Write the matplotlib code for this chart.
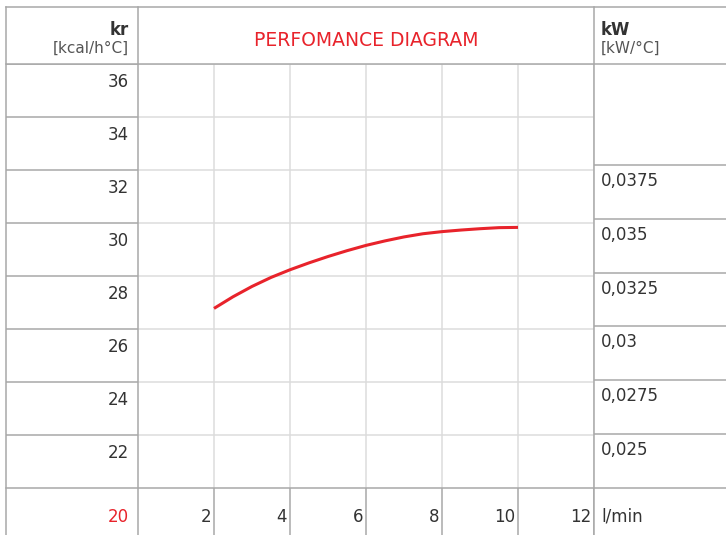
import matplotlib
matplotlib.use("Agg")
import matplotlib.pyplot as plt
from matplotlib.transforms import offset_copy

# data
flow = [2, 2.5, 3, 3.5, 4, 4.5, 5, 5.5, 6, 6.5, 7, 7.5, 8, 8.5, 9, 9.5, 10]  # l/min
kr_curve = [26.77, 27.21, 27.60, 27.94, 28.23, 28.49, 28.73, 28.95, 29.15,
            29.32, 29.47, 29.59, 29.67, 29.73, 29.78, 29.82, 29.83]

flow_ticks = [2, 4, 6, 8, 10, 12]
kr_ticks = [36, 34, 32, 30, 28, 26, 24, 22]
kw_ticks = [0.0375, 0.035, 0.0325, 0.03, 0.0275, 0.025]
kw_labels = ["0,0375", "0,035", "0,0325", "0,03", "0,0275", "0,025"]

title = "PERFOMANCE DIAGRAM"
RED = "#e8232b"
TXT = "#333333"
UNIT = "#555555"
BORDER = "#a8a8a8"
GRID = "#dcdcdc"

W, H = 726, 535
TOP, LEFT = 7, 6
HEAD, BOT = 64, 487.7
COL1, COL2 = 138, 594


def box(l, t, r, b):
    return [l / W, 1 - b / H, (r - l) / W, (b - t) / H]


def bare(a, grid_color):
    for s in a.spines.values():
        s.set_visible(False)
    a.tick_params(length=0, labelbottom=False, labelleft=False)
    a.grid(True, color=grid_color, lw=1.1)
    a.set_axisbelow(True)


fig = plt.figure(figsize=(W / 100, H / 100), dpi=100)

# main plot area
ax = fig.add_axes(box(COL1, HEAD, COL2, BOT))
ax.set_xlim(0, 12)
ax.set_ylim(20, 36)
ax.set_xticks(flow_ticks)
ax.set_yticks(kr_ticks)
bare(ax, GRID)
ax.plot(flow, kr_curve, color=RED, lw=2.2, solid_capstyle="butt",
        solid_joinstyle="round")

# left column (kr)
lax = fig.add_axes(box(LEFT, HEAD, COL1, BOT))
lax.set_xlim(0, 1)
lax.set_ylim(20, 36)
lax.set_xticks([])
lax.set_yticks(kr_ticks)
bare(lax, BORDER)
tr = offset_copy(lax.get_yaxis_transform(), fig, x=-9, y=-16, units="dots")
for v in kr_ticks:
    lax.text(1, v, str(v), transform=tr, ha="right", va="center_baseline",
             fontsize=12, color=TXT)
tr = offset_copy(lax.get_yaxis_transform(), fig, x=-9, y=-27, units="dots")
lax.text(1, 20, "20", transform=tr, ha="right", va="center_baseline",
         fontsize=12, color=RED, clip_on=False)

# right column (kW)
rax = fig.add_axes(box(COL2, HEAD, W, BOT))
rax.set_xlim(0, 1)
rax.set_ylim(0.0225, 0.042195)
rax.set_xticks([])
rax.set_yticks(kw_ticks)
bare(rax, BORDER)
tr = offset_copy(rax.get_yaxis_transform(), fig, x=7, y=-14, units="dots")
for v, lab in zip(kw_ticks, kw_labels):
    rax.text(0, v, lab, transform=tr, ha="left", va="center_baseline",
             fontsize=12, color=TXT)

# bottom row (flow labels)
bax = fig.add_axes(box(COL1, BOT, COL2, H))
bax.set_xlim(0, 12)
bax.set_ylim(0, 1)
bax.set_xticks(flow_ticks)
bax.set_yticks([])
bare(bax, BORDER)
tr = offset_copy(bax.get_xaxis_transform(), fig, x=-3, y=-27, units="dots")
for v in flow_ticks:
    bax.text(v, 1, str(v), transform=tr, ha="right", va="center_baseline",
             fontsize=12, color=TXT, clip_on=False)
tr = offset_copy(bax.get_xaxis_transform(), fig, x=7, y=-27, units="dots")
bax.text(12, 1, "l/min", transform=tr, ha="left", va="center_baseline",
         fontsize=12, color=TXT, clip_on=False)

# table frame and header
fr = fig.add_axes([0, 0, 1, 1])
fr.set_xlim(0, W)
fr.set_ylim(H, 0)
fr.axis("off")
fr.patch.set_alpha(0)
kw = dict(color=BORDER, lw=1.1)
fr.plot([LEFT, W], [TOP, TOP], **kw)
fr.plot([LEFT, W], [HEAD, HEAD], **kw)
fr.plot([LEFT, W], [BOT, BOT], **kw)
fr.plot([LEFT, LEFT], [TOP, H], **kw)
fr.plot([COL1, COL1], [TOP, H], **kw)
fr.plot([COL2, COL2], [TOP, H], **kw)

fr.text(129, 28, "kr", ha="right", va="center_baseline", fontsize=12,
        fontweight="bold", color=TXT)
fr.text(129, 47, "[kcal/h°C]", ha="right", va="center_baseline",
        fontsize=11, color=UNIT)
fr.text(366, 38, title, ha="center", va="center_baseline", fontsize=13.5,
        color=RED)
fr.text(601, 28, "kW", ha="left", va="center_baseline", fontsize=12,
        fontweight="bold", color=TXT)
fr.text(601, 47, "[kW/°C]", ha="left", va="center_baseline",
        fontsize=11, color=UNIT)

fig.savefig("out.png", dpi=100)
